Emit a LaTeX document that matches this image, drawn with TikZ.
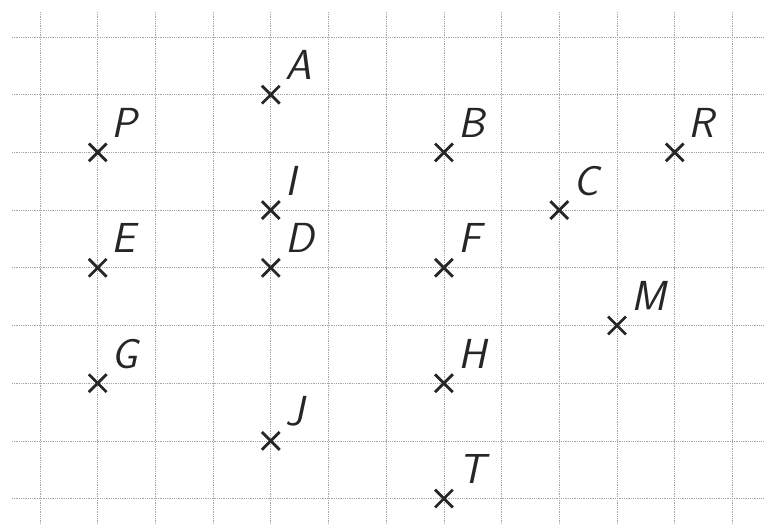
\documentclass[tikz,border=0pt]{standalone}
\usetikzlibrary{shapes.misc}
\begin{document}
\begin{tikzpicture}[x=1pt,y=-1pt,
  gridline/.style={draw=black!35, line width=0.8pt, densely dotted},
  pnt/.style={draw=black!85, cross out, minimum size=15pt, inner sep=0pt, line width=2.8pt},
  lab/.style={anchor=base west, inner sep=0pt, text=black!85, font=\fontsize{42}{48}\selectfont\sffamily\itshape}
]
\useasboundingbox (0,0) rectangle (764,524);
\fill[white] (0,0) rectangle (764,524);
% grid
\foreach \c in {0,...,12} \draw[gridline] ({40+57.7*\c},12) -- ({40+57.7*\c},524);
\foreach \r in {0,...,8} \draw[gridline] (12,{37+57.7*\r}) -- (764,{37+57.7*\r});
% points
\def\pt#1#2#3{\node[pnt] (#1) at ({40+57.7*#2},{37+57.7*#3}) {};
  \node[lab] (#1l) at ([shift={(14pt,15pt)}]#1.center) {#1};}
\pt{A}{4}{1}
\pt{P}{1}{2}
\pt{B}{7}{2}
\pt{R}{11}{2}
\pt{I}{4}{3}
\pt{C}{9}{3}
\pt{E}{1}{4}
\pt{D}{4}{4}
\pt{F}{7}{4}
\pt{M}{10}{5}
\pt{G}{1}{6}
\pt{H}{7}{6}
\pt{J}{4}{7}
\pt{T}{7}{8}
\end{tikzpicture}
\end{document}
